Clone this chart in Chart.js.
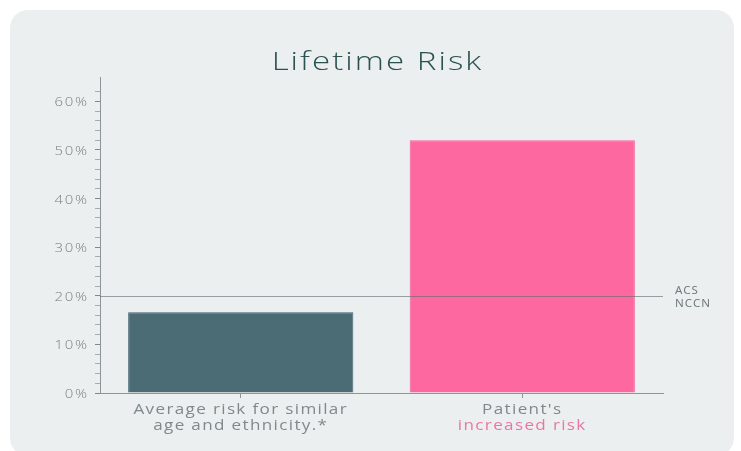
<!DOCTYPE html>
<html>
<head>
<meta charset="utf-8">
<script src="https://cdn.jsdelivr.net/npm/chart.js@4"></script>
<style>
  html, body { margin: 0; padding: 0; background: #fff; }
  #card {
    position: absolute; left: 10px; top: 10px;
    width: 724px; height: 446px;
    background: #eceff0; border-radius: 18px; overflow: hidden;
  }
</style>
</head>
<body>
<div id="card"><canvas id="c" width="724" height="446"></canvas></div>
<script>
const chartTitle = "Lifetime Risk";
const categories = ["avg", "patient"];
const labelLines = [["Average risk for similar", "age and ethnicity.*"], ["Patient's", "increased risk"]];
const labelColors = [["#7f898a", "#7f898a"], ["#7f898a", "#ea76a1"]];
const riskValues = [16.6, 52];
const barColors = ["#4b6b75", "#fd68a1"];
const barBorders = ["#42616b", "#f35e98"];
const guideValue = 20;
const guideLabels = ["ACS", "NCCN"];

const TICK = "#76827f";

// wide geometric-looking text: stretch horizontally a little
function wideText(ctx, text, x, y, align, stretch, spacing) {
  ctx.save();
  ctx.translate(x, y);
  ctx.scale(stretch, 1);
  ctx.letterSpacing = spacing + "px";
  ctx.textAlign = align;
  ctx.fillText(text, align === "right" ? spacing : 0, 0);
  ctx.restore();
}

const extras = {
  id: "extras",
  afterDraw(chart) {
    const ctx = chart.ctx, x = chart.scales.x, y = chart.scales.y;
    const area = chart.chartArea;
    ctx.save();
    ctx.textBaseline = "alphabetic";

    // title
    ctx.fillStyle = "#2a5350";
    ctx.font = "300 26px 'Open Sans'";
    wideText(ctx, chartTitle, (area.left + area.right) / 2 - 4, area.top - 7, "center", 1.27, 1.6);

    // guideline at 20%
    const gy = Math.round(y.getPixelForValue(guideValue)) + 0.5;
    ctx.strokeStyle = "rgba(95,105,107,0.6)";
    ctx.lineWidth = 1;
    ctx.beginPath();
    ctx.moveTo(area.left, gy);
    ctx.lineTo(area.right, gy);
    ctx.stroke();
    ctx.fillStyle = "#6f7a7b";
    ctx.font = "11px 'Noto Sans'";
    guideLabels.forEach((t, i) => wideText(ctx, t, area.right + 12, gy - 3 + i * 13, "left", 1.05, 1));

    // y tick labels
    ctx.fillStyle = TICK;
    ctx.font = "300 13px 'Open Sans'";
    y.ticks.forEach(t => {
      if (t.value % 10 !== 0) return;
      wideText(ctx, t.value + "%", area.left - 13, y.getPixelForValue(t.value) + 5, "right", 1.15, 1.5);
    });

    // category labels
    ctx.font = "14px 'Open Sans'";
    categories.forEach((c, i) => {
      const cx = x.getPixelForValue(i);
      labelLines[i].forEach((ln, j) => {
        ctx.fillStyle = labelColors[i][j];
        wideText(ctx, ln, cx, area.bottom + 21 + j * 16, "center", 1.22, 1.1);
      });
    });
    ctx.restore();
  }
};

new Chart(document.getElementById("c"), {
  type: "bar",
  data: {
    labels: categories,
    datasets: [{
      data: riskValues,
      backgroundColor: barColors,
      borderColor: barBorders,
      borderWidth: 1,
      categoryPercentage: 0.8,
      barPercentage: 1.0
    }]
  },
  options: {
    responsive: false,
    animation: false,
    layout: { padding: { left: 0, right: 71, top: 67, bottom: 0 } },
    plugins: {
      legend: { display: false },
      tooltip: { enabled: false },
      title: { display: false }
    },
    scales: {
      x: {
        afterFit: s => { s.height = 63; },
        ticks: { display: false },
        grid: { offset: false, drawOnChartArea: false, tickLength: 5, color: "#8c9697" },
        border: { color: "#8c9697" }
      },
      y: {
        min: 0, max: 65,
        afterFit: s => { s.width = 90; },
        afterBuildTicks: s => { s.ticks = s.ticks.filter(t => t.value % 2 === 0); },
        ticks: { display: false, stepSize: 2, autoSkip: false },
        grid: {
          drawOnChartArea: false, tickLength: 5,
          color: ctx => (ctx.tick && ctx.tick.value % 10 === 0 ? "#7e898a" : "#a4adae")
        },
        border: { color: "#8c9697" }
      }
    }
  },
  plugins: [extras]
});
</script>
</body>
</html>
